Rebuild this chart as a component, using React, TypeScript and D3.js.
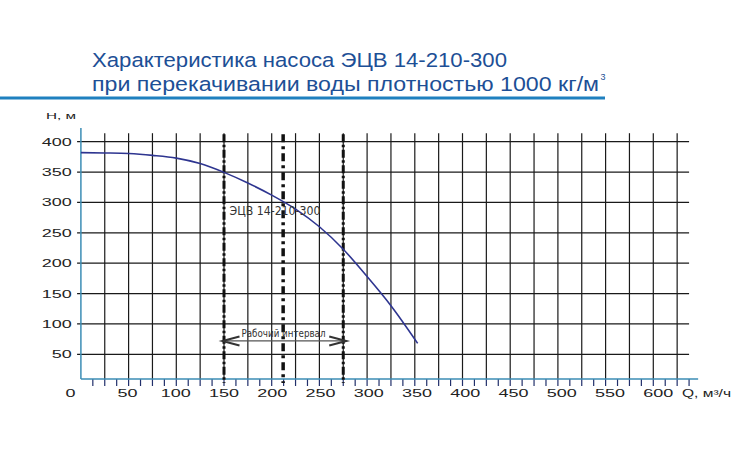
import React from "react";
import * as d3 from "d3";

// ---- data ----
const Q_VALUES = [0, 25, 50, 75, 100, 125, 150, 175, 200, 225, 250, 275, 300, 325, 353];
const H_VALUES = [382, 381.5, 380.5, 377.5, 373, 364, 349.5, 332, 312, 289, 260, 223, 178, 130, 68];
const X_TICK_LABELS = [0, 50, 100, 150, 200, 250, 300, 350, 400, 450, 500, 550, 600];
const Y_TICK_LABELS = [50, 100, 150, 200, 250, 300, 350, 400];
const INTERVAL_START = 150;
const INTERVAL_NOMINAL = 212;
const INTERVAL_END = 275;
const INTERVAL_LABEL_H = 72;
const TITLE_LINE1 = "Характеристика насоса ЭЦВ 14-210-300";
const TITLE_LINE2 = "при перекачивании воды плотностью 1000 кг/м";
const PUMP_LABEL = "ЭЦВ 14-210-300";
const INTERVAL_LABEL = "Рабочий интервал";
const Y_TITLE = "H, м";
const X_TITLE = "Q, м³/ч";

const GRID_STEP = 25;
const MINOR_STEP = 12.5;
const Q_GRID_MAX = 625;
const Q_AXIS_MAX = 647;
const Q_HGRID_MAX = 637.5;
const H_BASE = 9.4;
const H_VGRID_TOP = 414;
const H_AXIS_TOP = 422.6;

const x = d3.scaleLinear().domain([0, 600]).range([80.9, 653.3]);
const y = d3.scaleLinear().domain([0, 400]).range([384.7, 141.7]);
const xLabel = d3.scaleLinear().domain([50, 600]).range([x(50) - 1, x(600) + 5]);

const WIDE = "'Liberation Sans', Arial, sans-serif";
const TITLE_FONT = "'Liberation Sans', Arial, sans-serif";
const GRID = "#1a1a1a";
const AXIS = "#3b8db5";
const NAVY = "#22306b";
const CURVE = "#2e3590";
const TITLE_COLOR = "#1d4f96";

export default function App() {
  const vGrid = d3.range(GRID_STEP, Q_GRID_MAX + 0.1, GRID_STEP);
  const minor = d3.range(MINOR_STEP, Q_HGRID_MAX + 0.1, MINOR_STEP);
  const line = d3
    .line<number>()
    .x((_, i) => x(Q_VALUES[i]))
    .y((h) => y(h))
    .curve(d3.curveMonotoneX);
  const curvePath = line(H_VALUES) || "";

  const yArrow = y(INTERVAL_LABEL_H);
  const xa = x(INTERVAL_START) - 1.5;
  const xb = x(INTERVAL_END) + 3;

  const dashLine = (q: number, dash: string, w: number) => (
    <line
      x1={x(q)}
      x2={x(q)}
      y1={y(H_VGRID_TOP) + 1}
      y2={y(H_BASE) + 4}
      stroke="#111"
      strokeWidth={w}
      strokeDasharray={dash}
    />
  );

  return (
    <svg
      width={750}
      height={450}
      style={{ position: "absolute", left: 0, top: 0, background: "#fff" }}
    >
      {/* Title */}
      <text
        x={92}
        y={66.5}
        fontFamily={TITLE_FONT}
        fontSize={20.5}
        fill={TITLE_COLOR}
        textLength={415}
        lengthAdjust="spacingAndGlyphs"
      >
        {TITLE_LINE1}
      </text>
      <text
        x={92}
        y={90.5}
        fontFamily={TITLE_FONT}
        fontSize={20.5}
        fill={TITLE_COLOR}
        textLength={507}
        lengthAdjust="spacingAndGlyphs"
      >
        {TITLE_LINE2}
      </text>
      <text x={600.5} y={80} fontFamily={TITLE_FONT} fontSize={9} fill={TITLE_COLOR}>
        3
      </text>
      <line x1={0} x2={605} y1={98} y2={98} stroke="#1f80bf" strokeWidth={3} />

      {/* horizontal grid */}
      {Y_TICK_LABELS.map((h) => (
        <line
          key={"h" + h}
          x1={x(-4)}
          x2={x(Q_HGRID_MAX)}
          y1={y(h)}
          y2={y(h)}
          stroke={GRID}
          strokeWidth={1.2}
        />
      ))}
      {/* vertical grid */}
      {vGrid.map((q) => (
        <line
          key={"v" + q}
          x1={x(q)}
          x2={x(q)}
          y1={y(H_VGRID_TOP)}
          y2={y(H_BASE)}
          stroke={GRID}
          strokeWidth={1.2}
        />
      ))}
      {/* minor ticks */}
      {minor.map((q) => (
        <line
          key={"m" + q}
          x1={x(q)}
          x2={x(q)}
          y1={y(H_BASE)}
          y2={y(H_BASE) + 7}
          stroke={NAVY}
          strokeWidth={1.2}
        />
      ))}

      {/* axes */}
      <line x1={x(0)} x2={x(0)} y1={y(H_AXIS_TOP)} y2={y(H_BASE)} stroke={AXIS} strokeWidth={1.5} />
      <line x1={x(0)} x2={x(Q_AXIS_MAX)} y1={y(H_BASE)} y2={y(H_BASE)} stroke={AXIS} strokeWidth={1.5} />

      {/* y tick labels */}
      {Y_TICK_LABELS.map((h) => (
        <text
          key={"yl" + h}
          transform={`translate(71.7,${y(h) + 4}) scale(1.8,1)`}
          textAnchor="end"
          fontFamily={WIDE}
          fontSize={10}
          fill="#222"
        >
          {h}
        </text>
      ))}
      {/* x tick labels */}
      {X_TICK_LABELS.map((q) => (
        <text
          key={"xl" + q}
          transform={`translate(${q === 0 ? x(0) - 10.5 : xLabel(q)},397.3) scale(1.8,1)`}
          textAnchor="middle"
          fontFamily={WIDE}
          fontSize={10}
          fill="#222"
        >
          {q}
        </text>
      ))}
      <text
        x={46}
        y={119}
        fontFamily={WIDE}
        fontSize={9.5}
        fill="#222"
        textLength={30}
        lengthAdjust="spacingAndGlyphs"
      >
        {Y_TITLE}
      </text>
      <text
        x={682}
        y={397.3}
        fontFamily={WIDE}
        fontSize={10}
        fill="#222"
        textLength={49}
        lengthAdjust="spacingAndGlyphs"
      >
        {X_TITLE}
      </text>

      {/* working interval lines */}
      {dashLine(INTERVAL_START, "8,2.5,2.5,2.5", 3)}
      {dashLine(INTERVAL_NOMINAL, "8,4,3,4", 3.5)}
      {dashLine(INTERVAL_END, "8,2.5,2.5,2.5", 3)}

      {/* curve */}
      <path d={curvePath} fill="none" stroke={CURVE} strokeWidth={1.6} />

      {/* pump label */}
      <text
        x={x(INTERVAL_START) + 5.5}
        y={215}
        fontFamily="'Liberation Sans Narrow', 'DejaVu Sans Condensed', sans-serif"
        fontSize={13}
        fill="#333"
        textLength={91}
        lengthAdjust="spacingAndGlyphs"
      >
        {PUMP_LABEL}
      </text>

      {/* working interval arrow */}
      <line x1={xa} x2={xb} y1={yArrow} y2={yArrow} stroke="#555" strokeWidth={1.3} />
      <path
        d={`M${xa + 17},${yArrow - 4.5} L${xa},${yArrow} L${xa + 17},${yArrow + 4.5}`}
        fill="none"
        stroke="#333"
        strokeWidth={2}
      />
      <path
        d={`M${xb - 17},${yArrow - 4.5} L${xb},${yArrow} L${xb - 17},${yArrow + 4.5}`}
        fill="none"
        stroke="#333"
        strokeWidth={2}
      />
      <text
        x={241.5}
        y={yArrow - 3.5}
        fontFamily="'Liberation Sans Narrow', 'DejaVu Sans Condensed', sans-serif"
        fontSize={11}
        fill="#333"
        textLength={84}
        lengthAdjust="spacingAndGlyphs"
      >
        {INTERVAL_LABEL}
      </text>
    </svg>
  );
}
